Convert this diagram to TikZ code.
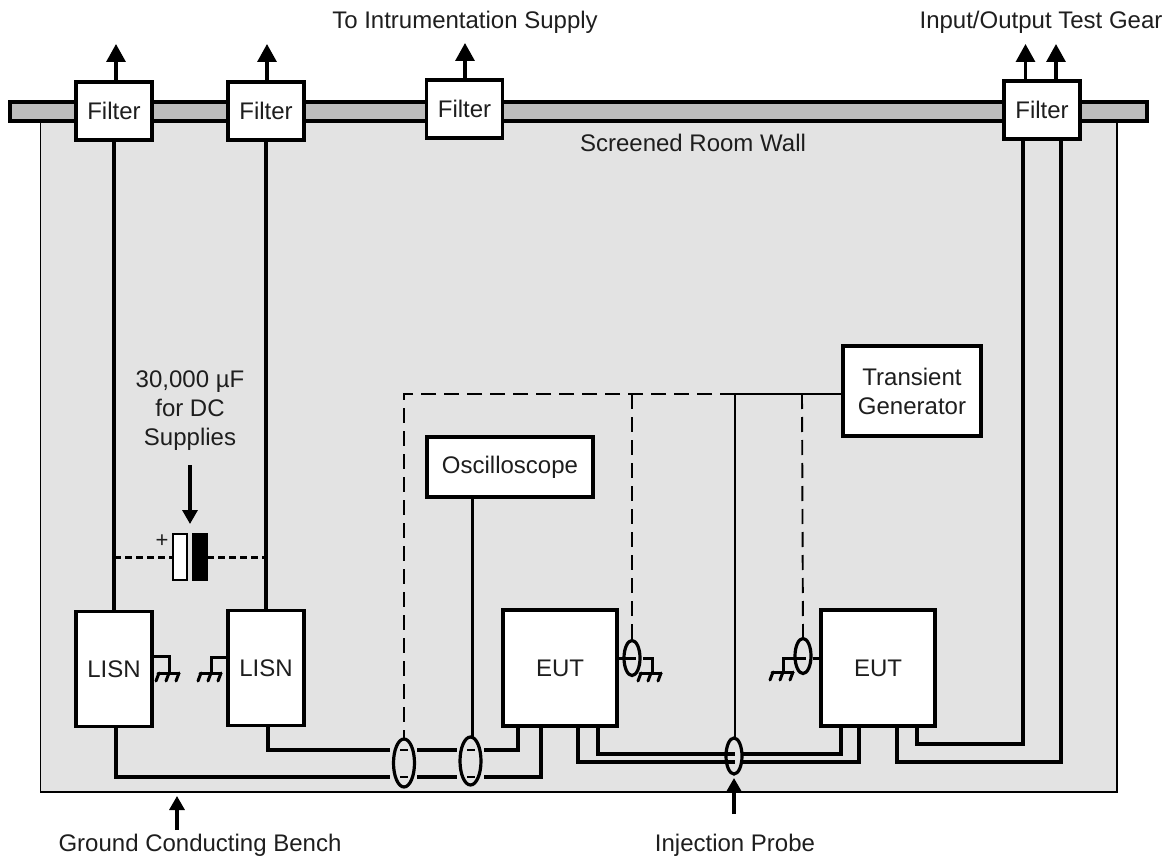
\documentclass[tikz,border=0pt]{standalone}
\usepackage{fontspec}
\setmainfont{Liberation Sans}
\usetikzlibrary{arrows.meta,shapes.geometric,calc}
\definecolor{wallgray}{HTML}{BDBDBD}
\definecolor{benchgray}{HTML}{E3E3E3}
\definecolor{ink}{HTML}{1E1E1E}
\tikzset{
  unit/.style={draw=black,fill=white,line width=3.2pt,inner sep=0pt,outer sep=0pt,text=ink,font=\fontsize{24}{29}\selectfont,align=center},
  filterbox/.style={unit,minimum width=76pt,minimum height=58pt},
  lisnbox/.style={unit,minimum width=76pt,minimum height=115pt},
  eutbox/.style={unit,minimum width=114pt,minimum height=116pt},
  wire/.style={line width=3.2pt,line join=miter},
  thinwire/.style={line width=1.9pt},
  dashwire/.style={line width=1.9pt,dash pattern=on 15pt off 8pt},
  capdash/.style={line width=3pt,dash pattern=on 7pt off 4pt},
  up/.style={line width=3.2pt,-{Triangle[length=18pt,width=19pt]}},
  probe/.style={draw=black,line width=3.2pt,ellipse,inner sep=0pt,outer sep=0pt},
  label/.style={text=ink,font=\fontsize{24}{29}\selectfont,inner sep=0pt,align=center},
  hatch/.style={line width=3pt,line cap=round}
}
\newcommand{\groundsym}[2]{%
  \draw[hatch] (#1-11,#2) -- (#1+10,#2);
  \draw[hatch] (#1-10,#2) -- (#1-13,#2+8);
  \draw[hatch] (#1,#2) -- (#1-3,#2+8);
  \draw[hatch] (#1+10,#2) -- (#1+7,#2+8);
}
\begin{document}
\begin{tikzpicture}[x=1pt,y=-1pt]
\useasboundingbox (0,0) rectangle (1175,858);
% bench and wall
\node[draw=black,fill=benchgray,line width=1.7pt,minimum width=1076.5pt,minimum height=671pt,inner sep=0pt,outer sep=0pt] (bench) at (578.75,456.5) {};
\node[draw=black,fill=wallgray,line width=3.2pt,minimum width=1137pt,minimum height=19pt,inner sep=0pt,outer sep=0pt] (wall) at (578.5,111.5) {};

% boxes (positions)
\node[filterbox] (f1) at (114,111) {Filter};
\node[filterbox] (f2) at (266,111) {Filter};
\node[filterbox] (f3) at (464.5,109) {Filter};
\node[filterbox] (f4) at (1042,110) {Filter};
\node[lisnbox] (l1) at (114,669) {LISN};
\node[lisnbox] (l2) at (266,668) {LISN};
\node[eutbox] (e1) at (560,668) {EUT};
\node[eutbox] (e2) at (878,668) {EUT};
\node[unit,minimum width=166pt,minimum height=60pt] (osc) at (510,467) {Oscilloscope};
\node[unit,minimum width=138pt,minimum height=90pt] (tg) at (912,391) {Transient\\Generator};

% capacitor
\node[draw=black,fill=white,line width=2pt,minimum width=14pt,minimum height=46pt,inner sep=0pt,outer sep=0pt] (capa) at (180,557) {};
\node[draw=black,fill=black,line width=2pt,minimum width=14pt,minimum height=46pt,inner sep=0pt,outer sep=0pt] (capb) at (200,557) {};
\node[label,font=\fontsize{22}{24}\selectfont] (plus) at (162,541) {+};

% probes
\node[probe,minimum width=21pt,minimum height=48pt] (p1) at (404,763) {};
\node[probe,minimum width=21pt,minimum height=48pt] (p2) at (470.5,761) {};
\node[probe,minimum width=16pt,minimum height=36pt] (p3) at (734,756) {};
\node[probe,minimum width=16pt,minimum height=35pt] (p4) at (632,658) {};
\node[probe,minimum width=16pt,minimum height=35pt] (p5) at (803,656) {};

% named points
\coordinate (jl) at (404,394);
\coordinate (jm) at (632,394);
\coordinate (jt) at (735,394);
\coordinate (jr) at (802,394);
\coordinate (aUp1) at (116,44);
\coordinate (aUp2) at (267,44);
\coordinate (aUp3) at (465,43);
\coordinate (aUp4) at (1025.5,44);
\coordinate (aUp5) at (1056,44);

% filter to LISN
\draw[wire] (f1.south) -- (l1.north);
\draw[wire] (f2.south) -- (l2.north);
% arrows out of filters
\draw[up] (aUp1 |- f1.north) -- (aUp1);
\draw[up] (aUp2 |- f2.north) -- (aUp2);
\draw[up] (aUp3 |- f3.north) -- (aUp3);
\draw[up] (aUp4 |- f4.north) -- (aUp4);
\draw[up] (aUp5 |- f4.north) -- (aUp5);

% capacitor dashes
\draw[capdash] (capa.west -| f1.south) -- (capa.west);
\draw[capdash] (capb.east) -- (capb.east -| f2.south);
\coordinate (capIn) at (190,465);
\coordinate (capTip) at (190,524);
\draw[line width=3.2pt,-{Triangle[length=14pt,width=15pt]}] (capIn) -- (capTip);

% LISN grounds
\coordinate (g1) at (169,673);
\coordinate (g2) at (211,673);
\draw[line width=3pt] (l1.east |- 0,656) -- (169,656) -- (g1);
\draw[line width=3pt] (l2.west |- 0,657) -- (211,657) -- (g2);
\groundsym{169}{673}
\groundsym{211}{673}

% power returns through the probes
\coordinate (a1) at (116,726.5);
\coordinate (a2) at (541,726);
\coordinate (b1) at (268,725.5);
\coordinate (b2) at (518,726);
\draw[wire] (a1) |- (390,777);
\draw[wire] (417,777) -- (457,777);
\draw[wire] (484,777) -| (a2);
\draw[wire] (b1) |- (390,750);
\draw[wire] (417,750) -- (457,750);
\draw[wire] (484,750) -| (b2);
\draw[line width=2.6pt] (400,750) -- (408,750) (400,777) -- (408,777);
\draw[line width=2.6pt] (467,750) -- (475,750) (467,777) -- (475,777);

% transient generator and scope connections
\draw[dashwire] (jt) -- (jl) -- (p1.north);
\draw[thinwire] (jt) -- (tg.west |- jt);
\draw[thinwire] (p3.north -| jt) -- (jt);
\draw[dashwire] (jm) -- (p4.north);
\draw[dashwire] (jr) -- (p5.north);
\coordinate (oscOut) at (472.5,497);
\draw[wire] (oscOut) -- (oscOut |- p2.north);

% EUT 1 right cable and ground
\draw[line width=3pt] (e1.east |- p4.center) -- (636,658);
\draw[line width=3pt] (643,658) -- (652,658) -- (652,673);
\groundsym{651}{673}
% EUT 2 left cable and ground
\draw[line width=3pt] (e2.west |- 0,658) -- (813,658);
\draw[line width=3pt] (806,658) -- (783,658) -- (783,672);
\groundsym{783}{672}

% EUT to EUT cables
\coordinate (c1) at (578,726);
\coordinate (c2) at (598,726);
\coordinate (c3) at (841,726);
\coordinate (c4) at (859,726);
\draw[wire] (c2) |- (735,754);
\draw[wire] (c1) |- (735,762);
\draw[wire] (c3) |- (743,754);
\draw[wire] (c4) |- (743,762);

% EUT 2 to filter 4
\coordinate (d1) at (897,726);
\coordinate (d2) at (917,726);
\coordinate (d3) at (1061,139);
\coordinate (d4) at (1023,139);
\draw[wire] (d1) |- (1061,762) -- (d3);
\draw[wire] (d2) |- (1023,744) -- (d4);

% pointers
\coordinate (pi0) at (734,814);
\coordinate (pi1) at (734,778);
\coordinate (gb0) at (177,830);
\coordinate (gb1) at (177,796);
\draw[line width=3.2pt,-{Triangle[length=14pt,width=15pt]}] (pi0) -- (pi1);
\draw[line width=3.2pt,-{Triangle[length=14pt,width=15pt]}] (gb0) -- (gb1);

% labels
\node[label] (t1) at (465,22) {To Intrumentation Supply};
\node[label] (t2) at (1041,22) {Input/Output Test Gear};
\node[label] (t3) at (693,143) {Screened Room Wall};
\node[label] (t4) at (200,845) {Ground Conducting Bench};
\node[label] (t5) at (735,845) {Injection Probe};
\node[label] (t6) at (190,411) {30,000 µF\\for DC\\Supplies};
\end{tikzpicture}
\end{document}
